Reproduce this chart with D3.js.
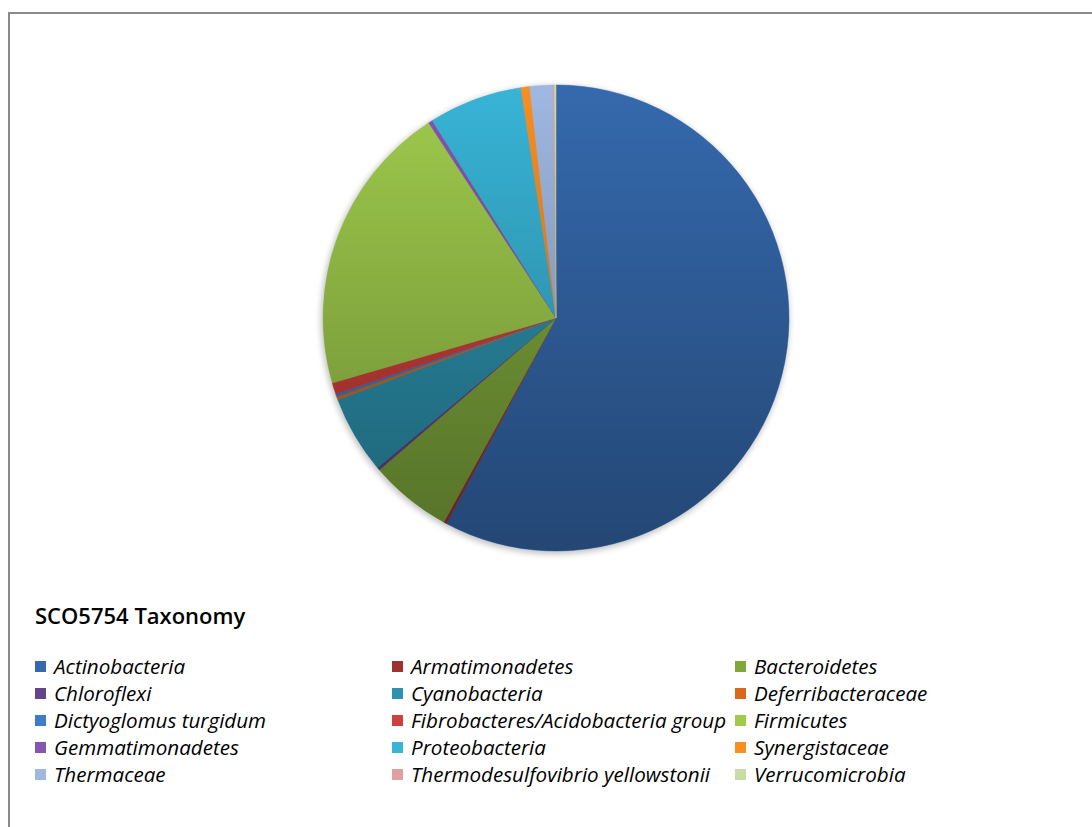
<!DOCTYPE html>
<html>
<head>
<meta charset="utf-8">
<script src="https://cdn.jsdelivr.net/npm/d3@7"></script>
<style>
  body { margin: 0; background: #fff; }
  svg { display: block; }
</style>
</head>
<body>
<svg width="1092" height="827"></svg>
<script>
// taxa in legend / slice order
const taxa = [
  'Actinobacteria', 'Armatimonadetes', 'Bacteroidetes',
  'Chloroflexi', 'Cyanobacteria', 'Deferribacteraceae',
  'Dictyoglomus turgidum', 'Fibrobacteres/Acidobacteria group', 'Firmicutes',
  'Gemmatimonadetes', 'Proteobacteria', 'Synergistaceae',
  'Thermaceae', 'Thermodesulfovibrio yellowstonii', 'Verrucomicrobia'
];
// share of hits, percent
const shares = [57.8, 0.2, 5.7, 0.2, 5.4, 0.2, 0.2, 0.8, 20.3, 0.3, 6.5, 0.6, 1.6, 0.1, 0.1];
const colors = [
  '#3569ad', '#9e3230', '#7fa83c',
  '#64448a', '#2c92ad', '#d8681a',
  '#3d7cc8', '#cf3f3b', '#9fcb4c',
  '#8456b0', '#38b4d6', '#f98e22',
  '#9fb8e2', '#e0a0a0', '#c8dca4'
];
const title = 'SCO5754 Taxonomy';

const svg = d3.select('svg');
const cx = 556, cy = 318, radius = 233;

// frame lines of the chart area
svg.append('path')
    .attr('d', 'M9,827 V13 H1092')
    .attr('fill', 'none')
    .attr('stroke', '#8a8a8a')
    .attr('stroke-width', 2);

const defs = svg.append('defs');
const shade = defs.append('linearGradient')
    .attr('id', 'shade')
    .attr('x1', 0).attr('y1', 0).attr('x2', 0).attr('y2', 1);
shade.append('stop').attr('offset', '0%').attr('stop-color', '#000').attr('stop-opacity', 0);
shade.append('stop').attr('offset', '100%').attr('stop-color', '#000').attr('stop-opacity', 0.33);

const blur = defs.append('filter').attr('id', 'shadow')
    .attr('x', '-10%').attr('y', '-10%').attr('width', '120%').attr('height', '120%');
blur.append('feGaussianBlur').attr('stdDeviation', 3);

const data = taxa.map((name, i) => ({name, value: shares[i], color: colors[i]}));

const pie = d3.pie()
    .value(d => d.value)
    .sort(null);
const arc = d3.arc()
    .innerRadius(0)
    .outerRadius(radius);

const chart = svg.append('g')
    .attr('transform', `translate(${cx}, ${cy})`);

chart.append('circle')
    .attr('cx', -1).attr('cy', 2)
    .attr('r', radius + 1)
    .attr('fill', '#000')
    .attr('opacity', 0.25)
    .attr('filter', 'url(#shadow)');

chart.selectAll('path.slice')
    .data(pie(data))
    .join('path')
    .attr('class', 'slice')
    .attr('d', arc)
    .attr('fill', d => d.data.color)
    .attr('stroke', d => d.data.color)
    .attr('stroke-width', 0.5);

chart.append('circle')
    .attr('r', radius)
    .attr('fill', 'url(#shade)');

// legend
svg.append('text')
    .attr('x', 35)
    .attr('y', 624)
    .attr('font-family', '"Open Sans", sans-serif')
    .attr('font-weight', 600)
    .attr('font-size', 22)
    .attr('fill', '#000')
    .text(title);

const colX = [35, 392, 735];
const rowY = d3.range(5).map(r => 667 + r * 27);

const item = svg.append('g')
    .selectAll('g')
    .data(data)
    .join('g')
    .attr('transform', (d, i) => `translate(${colX[i % 3]}, ${rowY[Math.floor(i / 3)]})`);

item.append('rect')
    .attr('x', 0).attr('y', -6)
    .attr('width', 11).attr('height', 11)
    .attr('fill', d => d.color);

item.append('text')
    .attr('x', 19)
    .attr('y', 6.5)
    .attr('font-family', '"Open Sans", sans-serif')
    .attr('font-style', 'italic')
    .attr('font-size', 20.6)
    .attr('fill', '#000')
    .text(d => d.name);
</script>
</body>
</html>
